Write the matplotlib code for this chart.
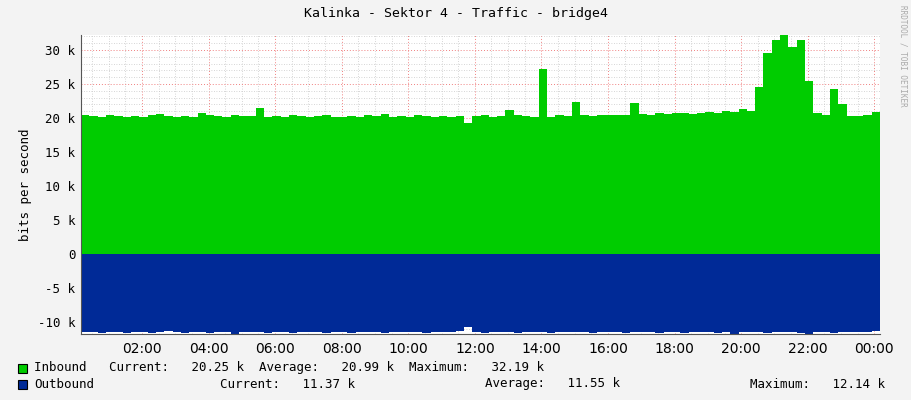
import numpy as np
import matplotlib.pyplot as plt
from matplotlib.ticker import MultipleLocator, FuncFormatter
from matplotlib.patches import Rectangle

# hours since midnight, 15-minute samples
t_start = 0.17
step = 0.25
inbound = [  # kbit/s
    20.5, 20.3, 20.2, 20.4, 20.3, 20.2, 20.3, 20.2,
    20.4, 20.6, 20.3, 20.2, 20.3, 20.2, 20.7, 20.4,
    20.3, 20.2, 20.4, 20.3, 20.3, 21.5, 20.2, 20.3,
    20.2, 20.4, 20.3, 20.2, 20.3, 20.4, 20.2, 20.1,
    20.3, 20.2, 20.4, 20.3, 20.6, 20.2, 20.3, 20.2,
    20.4, 20.3, 20.2, 20.3, 20.2, 20.3, 19.3, 20.3,
    20.4, 20.2, 20.3, 21.2, 20.4, 20.3, 20.2, 27.2,
    20.1, 20.5, 20.3, 22.3, 20.4, 20.3, 20.5, 20.4,
    20.5, 20.4, 22.2, 20.6, 20.5, 20.7, 20.6, 20.8,
    20.7, 20.6, 20.8, 20.9, 20.8, 21.0, 20.9, 21.3,
    21.0, 24.5, 29.5, 31.5, 32.2, 30.5, 31.5, 25.5,
    20.8, 20.4, 24.3, 22.0, 20.3, 20.3, 20.4, 20.9,
]
outbound = [
    -11.5, -11.4, -11.6, -11.5, -11.4, -11.6, -11.5, -11.4,
    -11.6, -11.5, -11.3, -11.5, -11.6, -11.4, -11.5, -11.6,
    -11.5, -11.4, -11.7, -11.5, -11.4, -11.5, -11.6, -11.4,
    -11.5, -11.6, -11.4, -11.5, -11.5, -11.6, -11.4, -11.5,
    -11.6, -11.5, -11.4, -11.5, -11.6, -11.4, -11.5, -11.5,
    -11.4, -11.6, -11.5, -11.4, -11.5, -11.3, -10.7, -11.5,
    -11.6, -11.5, -11.4, -11.5, -11.6, -11.4, -11.5, -11.5,
    -11.6, -11.4, -11.5, -11.5, -11.4, -11.6, -11.5, -11.4,
    -11.5, -11.6, -11.4, -11.5, -11.5, -11.6, -11.4, -11.5,
    -11.6, -11.5, -11.4, -11.5, -11.6, -11.4, -11.7, -11.5,
    -11.4, -11.5, -11.6, -11.4, -11.5, -11.5, -11.6, -11.7,
    -11.4, -11.5, -11.6, -11.4, -11.5, -11.5, -11.4, -11.3,
]
hour_labels = ["02:00", "04:00", "06:00", "08:00", "10:00", "12:00",
               "14:00", "16:00", "18:00", "20:00", "22:00", "00:00"]

MONO = "DejaVu Sans Mono"
BG = "#f3f3f3"
IN_C = "#00cc00"
OUT_C = "#002a97"

t = t_start + step * np.arange(len(inbound) + 1)
vin = np.append(inbound, inbound[-1])
vout = np.append(outbound, outbound[-1])

fig = plt.figure(figsize=(9.11, 4.0), dpi=100, facecolor=BG)
ax = fig.add_axes([81 / 911, 1 - 334 / 400, 799 / 911, 299 / 400])
ax.set_facecolor("white")

ax.fill_between(t, 0, vin, step="post", color=IN_C, lw=0, zorder=2)
ax.fill_between(t, 0, vout, step="post", color=OUT_C, lw=0, zorder=2)

ax.set_xlim(t_start, t[-1])
ax.set_ylim(-11.76, 32.2)

ax.xaxis.set_major_locator(MultipleLocator(2))
ax.xaxis.set_minor_locator(MultipleLocator(0.5))
ax.yaxis.set_major_locator(MultipleLocator(5))
ax.yaxis.set_minor_locator(MultipleLocator(1))
ax.grid(which="minor", color="#c8c8c8", ls=(0, (1, 2)), lw=0.6, zorder=3)
ax.grid(which="major", color="#f08080", ls=(0, (1, 2)), lw=0.7, zorder=3)

ax.xaxis.set_major_formatter(FuncFormatter(lambda v, p: hour_labels[int(round(v / 2)) - 1] if 1 <= round(v / 2) <= 12 else ""))
ax.yaxis.set_major_formatter(FuncFormatter(lambda v, p: "0" if abs(v) < 1e-9 else f"{v:.0f} k"))
for lab in ax.get_xticklabels() + ax.get_yticklabels():
    lab.set_family(MONO)
    lab.set_fontsize(9)
ax.tick_params(which="both", length=0, pad=4)
ax.tick_params(axis="x", pad=6)
for s in ["top", "right"]:
    ax.spines[s].set_visible(False)
ax.spines["left"].set_color("#555555")
ax.spines["bottom"].set_position(("data", -11.76))
ax.spines["bottom"].set_color("#555555")
ax.set_ylabel("bits per second", family=MONO, fontsize=9)

fig.text(0.5, 1 - 14 / 400, "Kalinka - Sektor 4 - Traffic - bridge4", ha="center", va="center",
         family=MONO, fontsize=9.5)
fig.text(903 / 911, 0.86, "RRDTOOL / TOBI OETIKER", rotation=270, ha="center", va="center",
         family=MONO, fontsize=5.5, color="#aaaaaa")

# legend
for y, c in [(368, IN_C), (384, OUT_C)]:
    fig.patches.append(Rectangle((18 / 911, 1 - (y + 5) / 400), 9 / 911, 9 / 400,
                                 transform=fig.transFigure, fc=c, ec="black", lw=0.8))
kw = dict(family=MONO, fontsize=9, va="center")
fig.text(34 / 911, 1 - 368 / 400,
         "Inbound   Current:   20.25 k  Average:   20.99 k  Maximum:   32.19 k", **kw)
fig.text(34 / 911, 1 - 384 / 400, "Outbound", **kw)
fig.text(220 / 911, 1 - 384 / 400, "Current:   11.37 k", **kw)
fig.text(485 / 911, 1 - 384 / 400, "Average:   11.55 k", **kw)
fig.text(750 / 911, 1 - 384 / 400, "Maximum:   12.14 k", **kw)

fig.savefig("out.png", dpi=100, facecolor=BG)
